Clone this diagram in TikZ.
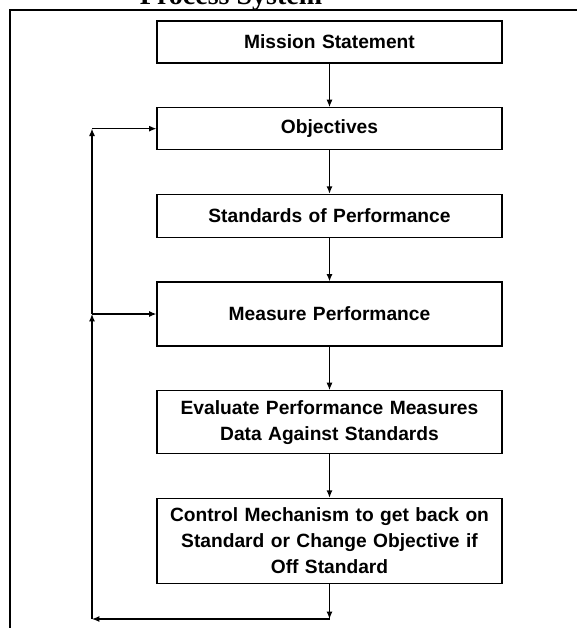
\documentclass[tikz,border=0pt]{standalone}
\usepackage{fontspec}
\setmainfont{Liberation Sans}
\newfontfamily\headfont{Liberation Serif}
\usetikzlibrary{positioning,arrows.meta}

\begin{document}
\begin{tikzpicture}[x=0.75pt,y=-0.75pt,node distance=32.6pt,
    >={Latex[length=5.5pt,width=4.5pt]}]
    \tikzset{step box/.style={draw,line width=0.9pt,rectangle,minimum width=258.75pt,
        text width=250pt,align=center,inner sep=2pt,
        font=\bfseries\fontsize{14.4}{19.5}\selectfont}}
    \tikzset{flow/.style={->,line width=0.9pt}}
    \clip (0,0) rectangle (577,628);
    % page frame, runs off to the right and bottom
    \draw[line width=1.1pt] (10,660) -- (10,10) -- (600,10);
    \node[anchor=base] (title) at (231,4)
        {\headfont\bfseries\fontsize{21}{21}\selectfont Process System};

    \node[step box,minimum height=31.5pt] (mission) at (329.5,42) {Mission Statement};
    \node[step box,minimum height=31.5pt] (objectives) [below = of mission] {Objectives};
    \node[step box,minimum height=32.25pt] (standards) [below = of objectives] {Standards of Performance};
    \node[step box,minimum height=48pt] (measure) [below = of standards] {Measure Performance};
    \node[step box,minimum height=47.25pt] (evaluate) [below = of measure]
        {Evaluate Performance Measures\\Data Against Standards};
    \node[step box,minimum height=63.75pt] (control) [below = of evaluate]
        {Control Mechanism to get back on\\Standard or Change Objective if\\Off Standard};

    \path[flow]
    (mission) edge (objectives)
    (objectives) edge (standards)
    (standards) edge (measure)
    (measure) edge (evaluate)
    (evaluate) edge (control);

    % feedback loop on the left
    \coordinate (bottom) at (control.south |- 0,619);
    \coordinate (corner) at (92,619);
    \coordinate (jmeas) at (corner |- measure.west);
    \coordinate (jobj) at (corner |- objectives.west);
    \draw[flow] (control.south) -- (bottom);
    \draw[flow] (bottom) -- (corner);
    \draw[flow] (corner) -- (jmeas);
    \draw[flow] (jmeas) -- (measure.west);
    \draw[flow] (jmeas) -- (jobj);
    \draw[flow] (jobj) -- (objectives.west);
\end{tikzpicture}
\end{document}
